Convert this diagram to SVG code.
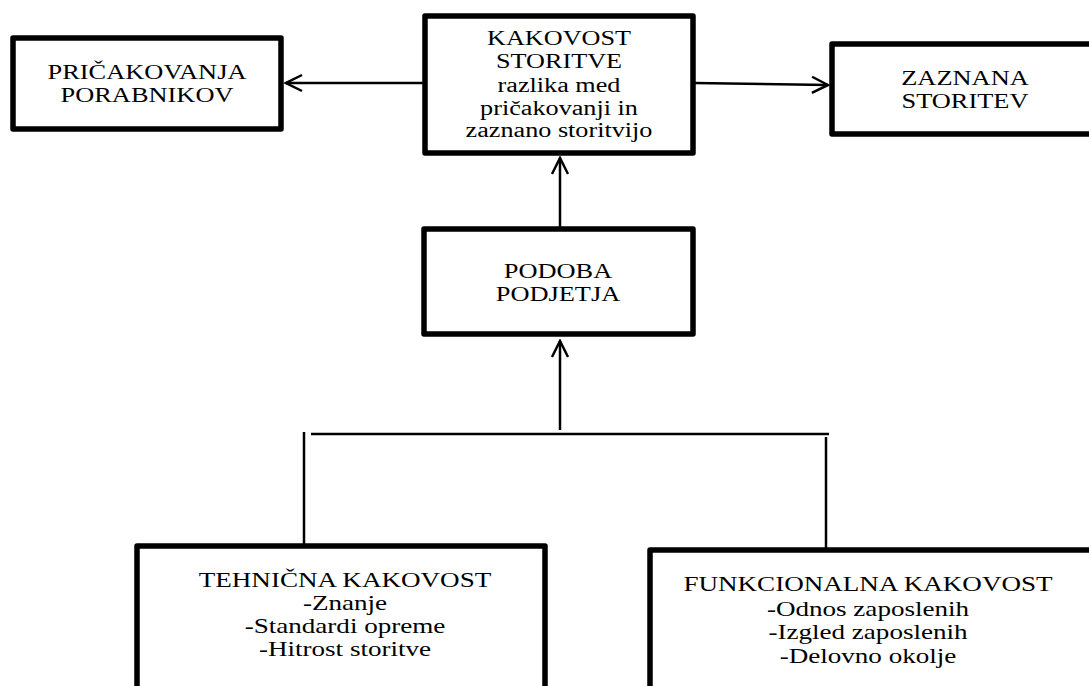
<svg xmlns="http://www.w3.org/2000/svg" width="1089" height="686" viewBox="0 0 1089 686">
<style>
.box{fill:#fff;stroke:#000;stroke-width:5.5;stroke-linejoin:round}
.con{fill:none;stroke:#000;stroke-width:2.5}
text{font-family:"Liberation Serif","Times New Roman",serif;font-size:20px;fill:#000;text-anchor:middle}
.b text{font-size:21px}
</style>
<defs>
<marker id="ah" viewBox="0 0 20 20" refX="18" refY="10" markerWidth="20" markerHeight="20" markerUnits="userSpaceOnUse" orient="auto">
<path d="M2,2 L18,10 L2,18" fill="none" stroke="#000" stroke-width="2.5"/>
</marker>
</defs>
<rect width="1089" height="686" fill="#fff"/>
<g id="connectors">
<line class="con" x1="424" y1="83" x2="286" y2="83" marker-end="url(#ah)"/>
<line class="con" x1="694" y1="83" x2="828" y2="85" marker-end="url(#ah)"/>
<line class="con" x1="560" y1="228" x2="560" y2="158" marker-end="url(#ah)"/>
<line class="con" x1="560" y1="430" x2="560" y2="341" marker-end="url(#ah)"/>
<line class="con" x1="311" y1="434" x2="829" y2="434"/>
<line class="con" x1="304" y1="432" x2="304" y2="544"/>
<line class="con" x1="826" y1="437" x2="826" y2="548"/>
</g>
<g id="pricakovanja">
<rect class="box" x="13" y="38" width="268" height="91"/>
<g transform="translate(147,0) scale(1.32,1)">
<text x="0" y="79">PRIČAKOVANJA</text>
<text x="0" y="102">PORABNIKOV</text>
</g>
</g>
<g id="kakovost">
<rect class="box" x="425" y="16" width="268" height="137"/>
<g transform="translate(559,0) scale(1.31,1)">
<text x="0" y="45">KAKOVOST</text>
<text x="0" y="68">STORITVE</text>
<text x="0" y="92">razlika med</text>
<text x="0" y="115">pričakovanji in</text>
<text x="0" y="137">zaznano storitvijo</text>
</g>
</g>
<g id="zaznana">
<rect class="box" x="832" y="44" width="270" height="90"/>
<g transform="translate(965,0) scale(1.32,1)">
<text x="0" y="85">ZAZNANA</text>
<text x="0" y="108">STORITEV</text>
</g>
</g>
<g id="podoba">
<rect class="box" x="424" y="229" width="269" height="105"/>
<g transform="translate(558,0) scale(1.32,1)">
<text x="0" y="278">PODOBA</text>
<text x="0" y="301">PODJETJA</text>
</g>
</g>
<g id="tehnicna" class="b">
<rect class="box" x="137" y="546" width="408" height="200"/>
<g transform="translate(345,0) scale(1.29,1)">
<text x="0" y="587">TEHNIČNA KAKOVOST</text>
<text x="0" y="610">-Znanje</text>
<text x="0" y="633">-Standardi opreme</text>
<text x="0" y="656">-Hitrost storitve</text>
</g>
</g>
<g id="funkcionalna" class="b">
<rect class="box" x="650" y="550" width="460" height="200"/>
<g transform="translate(868,0) scale(1.29,1)">
<text x="0" y="591">FUNKCIONALNA KAKOVOST</text>
<text x="0" y="616">-Odnos zaposlenih</text>
<text x="0" y="639">-Izgled zaposlenih</text>
<text x="0" y="663">-Delovno okolje</text>
</g>
</g>
</svg>
